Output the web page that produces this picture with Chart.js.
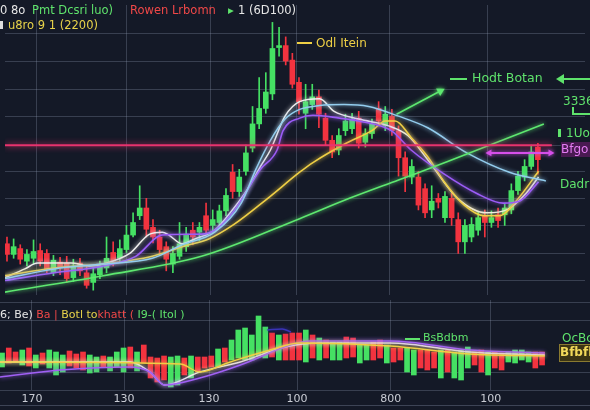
<!DOCTYPE html>
<html>
<head>
<meta charset="utf-8">
<script src="https://cdn.jsdelivr.net/npm/chart.js@4/dist/chart.umd.min.js"></script>
<style>
  body { margin: 0; background: #141927; }
  #wrap { position: relative; width: 590px; height: 410px; overflow: hidden; background: #141927; font-family: "DejaVu Sans", sans-serif; }
  canvas { position: absolute; left: 0; }
  #top { top: 0; }
  #bot { top: 300px; }
  .t { position: absolute; white-space: nowrap; font-size: 11.5px; line-height: 14px; }
  .ln { position: absolute; height: 2px; }
</style>
</head>
<body>
<div id="wrap">
  <canvas id="top" width="590" height="300"></canvas>
  <canvas id="bot" width="590" height="110"></canvas>

  <div class="t" style="left:0;top:3px;color:#e6e6e6">0 8o</div>
  <div class="t" style="left:32px;top:3px;color:#5fe36c">Pmt Dcsri luo)</div>
  <div class="t" style="left:130px;top:3px;color:#f04848">Rowen Lrbomn</div>
  <div class="t" style="left:228px;top:3px;color:#5fe36c">▸</div>
  <div class="t" style="left:238px;top:3px;color:#e6e6e6">1 (6D100)</div>
  <div style="position:absolute;left:0;top:21px;width:3px;height:8px;background:#ddd"></div>
  <div class="t" style="left:8px;top:18px;color:#e8d34a">u8ro 9 1 (2200)</div>

  <div class="ln" style="left:297px;top:42px;width:15px;background:#eecf45"></div>
  <div class="t" style="left:316px;top:36px;color:#eecf45;font-size:12px">Odl Itein</div>
  <div class="ln" style="left:450px;top:78px;width:17px;background:#5fe36c"></div>
  <div class="t" style="left:472px;top:71px;color:#5fe36c;font-size:12.5px">Hodt Botan</div>
  <div class="ln" style="left:563px;top:78px;width:27px;background:#5fe36c"></div>
  <div style="position:absolute;left:556px;top:74px;width:0;height:0;border-top:5px solid transparent;border-bottom:5px solid transparent;border-right:8px solid #5fe36c"></div>
  <div class="t" style="left:563px;top:94px;color:#5fe36c;font-size:12px">3336</div>
  <div class="ln" style="left:572px;top:113px;width:18px;background:#5fe36c"></div>
  <div style="position:absolute;left:572px;top:107px;width:2px;height:8px;background:#5fe36c"></div>
  <div style="position:absolute;left:558px;top:129px;width:3px;height:8px;background:#5fe36c"></div>
  <div class="t" style="left:566px;top:126px;color:#5fe36c;font-size:12px">1Uolo</div>
  <div class="t" style="left:561px;top:142px;width:29px;height:15px;background:#4a1a52;color:#e37cf2;font-size:12px">Bfgo</div>
  <div class="t" style="left:560px;top:177px;color:#5fe36c;font-size:12px">Dadru</div>

  <div class="t" style="left:0;top:308px;font-size:11px"><span style="color:#e6e6e6">6; Be)</span> <span style="color:#f04848">Ba |</span> <span style="color:#e8d34a">Botl to</span><span style="color:#f04848">khatt (</span> <span style="color:#5fe36c">I9-( Itol )</span></div>
  <div class="ln" style="left:405px;top:338px;width:15px;background:#5fe36c"></div>
  <div class="t" style="left:423px;top:331px;color:#5fe36c;font-size:11px">BsBdbm</div>
  <div class="t" style="left:562px;top:331px;color:#5fe36c;font-size:12px">OcBc</div>
  <div class="t" style="left:559px;top:344px;width:31px;height:16px;background:#3b3414;border:1px solid #8a7a30;color:#f2d95a;font-size:12px;font-weight:bold">Bfbfbt</div>
  <div style="position:absolute;left:0;top:405px;width:590px;height:1px;background:#3d4456"></div>
</div>

<script>
// candles, one per bar index
const opens = [
  53, 42, 48, 35, 38, 46, 43, 23, 34, 33,
  18, 33, 23, 13, 21, 28, 44, 38, 47, 62,
  82, 90, 70, 60, 50, 32, 40, 50, 67, 65,
  82, 72, 75, 87, 127, 107, 128, 152, 177, 193,
  208, 256, 258, 243, 220, 188, 197, 205, 183, 160,
  150, 170, 172, 183, 158, 167, 193, 175, 185, 170,
  142, 122, 122, 110, 88, 100, 80, 100, 78, 55,
  60, 67, 82, 75, 83, 83, 88, 108, 122, 133,
  153
];
const highs = [
  60, 58, 52, 47, 57, 53, 47, 41, 39, 40,
  37, 38, 30, 28, 35, 60, 55, 57, 72, 85,
  113, 100, 78, 67, 55, 50, 75, 70, 75, 75,
  95, 88, 93, 110, 135, 130, 155, 195, 225, 230,
  282, 277, 267, 250, 225, 218, 218, 212, 188, 165,
  172, 187, 188, 190, 172, 182, 200, 195, 192, 175,
  148, 140, 128, 115, 113, 105, 107, 105, 85, 78,
  80, 86, 88, 87, 90, 95, 115, 128, 140, 155,
  157
];
const lows = [
  35, 38, 32, 30, 32, 30, 23, 20, 21, 13,
  14, 20, 7, 5, 17, 23, 30, 34, 44, 60,
  78, 60, 54, 42, 25, 23, 37, 45, 52, 56,
  62, 65, 70, 82, 100, 102, 124, 148, 172, 188,
  202, 247, 238, 214, 187, 172, 192, 173, 155, 142,
  145, 165, 167, 152, 153, 162, 175, 170, 165, 123,
  107, 115, 88, 80, 80, 90, 75, 72, 43, 43,
  55, 62, 60, 70, 70, 72, 84, 104, 118, 130,
  125
];
const closes = [
  42, 50, 37, 42, 45, 35, 27, 36, 28, 17,
  30, 25, 10, 22, 30, 38, 35, 48, 62, 75,
  90, 68, 60, 47, 37, 43, 53, 63, 60, 70,
  67, 78, 87, 103, 107, 122, 147, 177, 193, 210,
  255, 258, 242, 218, 200, 200, 205, 187, 160, 148,
  165, 180, 182, 157, 167, 177, 180, 187, 170, 142,
  123, 133, 93, 85, 97, 96, 102, 80, 55, 72,
  73, 80, 75, 80, 77, 90, 108, 123, 133, 148,
  140
];

// moving averages [bar index, price]
const maWhite = [[-0.3,18],[2.7,27],[4.6,33],[9.6,33],[12.6,30],[14.5,32],[18.5,43],[21.5,63],[23.4,65],[24.4,62],[26.4,53],[28.3,58],[31.3,67],[34.2,90],[36.3,110],[38.2,133],[39.7,150],[41.9,185],[44.1,200],[47.1,203],[49.3,190],[53,182],[57.5,175],[60.4,165],[63.4,140],[67.9,100],[72.3,85],[75.3,88],[78.2,105],[80.1,122]];
const maBlue = [[-0.3,17],[7.1,27],[14.5,32],[21.9,38],[26.4,52],[31.3,65],[35.3,95],[37.5,130],[39.7,160],[41.9,182],[44.1,192],[47.1,196],[50.8,197],[54.5,195],[59,185],[63.4,173],[69.3,147],[75.7,127],[81.2,118]];
const maPurple = [[-0.3,15],[7.1,23],[14.5,30],[19.4,40],[23.4,62],[29.3,63],[31.3,67],[34.2,87],[38.2,130],[40.7,150],[41.6,170],[44.1,183],[46.1,186],[50.1,183],[53,180],[57.9,170],[60.9,150],[65.9,125],[70.8,105],[74.8,95],[77.2,97],[80.1,117]];
const maYellow = [[-0.3,20],[7.1,28],[14.5,32],[21.9,40],[26.4,50],[30.4,58],[34.2,73],[39.3,100],[44.1,127],[46.1,137],[51.1,157],[55,170],[57,180],[58.5,180],[60.9,163],[63.4,143],[65.9,117],[68.9,93],[71.9,82],[74.2,82],[76.7,97],[80.1,128]];
const trendGreen = [[-0.3,3],[14.5,20],[29.3,40],[44.1,79],[51.6,100],[59,119],[66.4,138],[80.9,177]];

const levelPrice = 155;
const levelSpan = [-0.3, 82.1];
const arrowUp = [[58.7,187],[65.3,211]];
const rangeArrow = [[72.7,147],[81.9,147]];

// lower panel
const volLow = [
  23, 27, 28, 25, 24, 22, 26, 22, 15, 18,
  24, 22, 20, 17, 18, 23, 19, 23, 18, 22,
  19, 27, 12, 8, 10, 3, 5, 15, 12, 18,
  22, 23, 23, 28, 30, 32, 30, 30, 34, 32,
  33, 30, 30, 30, 30, 28, 32, 30, 32, 30,
  30, 32, 33, 27, 30, 30, 32, 27, 28, 30,
  18, 15, 22, 20, 22, 12, 18, 12, 10, 22,
  25, 18, 15, 22, 20, 28, 27, 30, 28, 22,
  25
];
const volHigh = [
  37, 42, 38, 40, 42, 35, 37, 40, 38, 35,
  39, 36, 38, 35, 33, 34, 33, 38, 42, 43,
  38, 45, 33, 32, 34, 33, 34, 32, 34, 33,
  33, 34, 41, 42, 50, 60, 62, 55, 74, 63,
  57, 55, 56, 57, 57, 60, 55, 52, 50, 48,
  48, 53, 52, 45, 45, 48, 50, 45, 42, 42,
  42, 40, 40, 40, 38, 40, 40, 38, 40, 43,
  38, 40, 38, 38, 37, 38, 40, 40, 38, 38,
  38
];
const volUp = [
  1, 0, 0, 1, 0, 1, 0, 1, 1, 1,
  0, 0, 0, 1, 1, 0, 1, 1, 1, 0,
  1, 0, 0, 0, 0, 1, 1, 0, 1, 0,
  0, 0, 1, 0, 1, 1, 1, 1, 1, 1,
  0, 1, 0, 0, 0, 1, 0, 1, 0, 1,
  1, 0, 0, 1, 1, 0, 0, 1, 0, 0,
  1, 1, 0, 0, 0, 1, 0, 1, 1, 1,
  0, 0, 1, 0, 0, 1, 1, 1, 1, 0,
  0
];
const oscWhite = [[-0.3,28],[19,28],[21.9,18],[24.1,5],[29.3,18],[35.3,28],[41.9,43],[47.1,47],[57.5,47],[69.3,38],[80.4,35]];
const oscPurple = [[-0.3,13],[8.6,20],[19,23],[21.9,18],[24.1,5],[29.3,12],[35.3,25],[42.7,45],[45.6,49],[57.5,49],[69.3,40],[80.4,37]];
const oscYellow = [[-0.3,28],[26.4,26],[29.3,18],[33.8,28],[39.7,40],[44.1,47],[57.5,44],[69.3,36],[80.4,34]];
const oscSignal = [[39.3,60],[41.5,61],[42.8,58]];

const xTicks = [4.44, 18.07, 30.67, 43.7, 57.6, 72.4];
const xTickLabels = ['170', '130', '130', '100', '800', '100'];
const yTicksTop = [15, 43, 72, 100, 128, 155, 185, 213, 242, 270];
const yTicksBot = [0, 18, 70, 87];

const GREEN = '#45e063';
const RED = '#f2333f';
const gridColor = 'rgba(150,160,185,0.28)';
const xMin = -0.3, xMax = 87.1;

const glow = {
  id: 'glow',
  beforeDatasetDraw(chart, args) {
    const ds = chart.data.datasets[args.index];
    if (!ds.glow) return;
    chart.ctx.save();
    chart.ctx.shadowColor = ds.borderColor;
    chart.ctx.shadowBlur = ds.glow;
  },
  afterDatasetDraw(chart, args) {
    if (chart.data.datasets[args.index].glow) chart.ctx.restore();
  }
};

function line(pts, color, width, extra) {
  return Object.assign({
    type: 'line',
    data: pts.map(p => ({ x: p[0], y: p[1] })),
    borderColor: color,
    borderWidth: width,
    pointRadius: 0,
    cubicInterpolationMode: 'monotone',
    fill: false,
    order: 0,
    glow: 4
  }, extra || {});
}

function scaleX(showLabels) {
  return {
    type: 'linear', min: xMin, max: xMax, offset: false,
    grid: { color: gridColor, drawTicks: false, offset: false },
    border: { display: false },
    ticks: showLabels
      ? { color: '#c9ccd4', font: { size: 11, family: 'DejaVu Sans' }, padding: 3, maxRotation: 0, autoSkip: false,
          callback: (v, i) => xTickLabels[i] }
      : { display: false },
    afterBuildTicks: s => { s.ticks = xTicks.map(v => ({ value: v })); },
    afterFit: s => { s.height = showLabels ? 20 : 0; }
  };
}
function scaleY(min, max, ticks) {
  return {
    min: min, max: max,
    grid: { color: gridColor, drawTicks: false },
    border: { display: false },
    ticks: { display: false },
    afterBuildTicks: s => { s.ticks = ticks.map(v => ({ value: v })); },
    afterFit: s => { s.width = 0; }
  };
}

const candleColors = opens.map((o, i) => closes[i] >= o ? GREEN : RED);

new Chart(document.getElementById('top'), {
  type: 'bar',
  data: {
    datasets: [
      line(levelSpan.map(x => [x, levelPrice]), '#e8336e', 2, { cubicInterpolationMode: 'default', glow: 6 }),
      line(trendGreen, '#5ee870', 1.6),
      line(maBlue, '#93cdee', 1.5),
      line(maPurple, '#9b5cf6', 1.6),
      line(maYellow, '#efcf45', 1.6),
      line(maWhite, '#eeeeee', 1.5),
      line(arrowUp, '#5ee870', 1.6, { pointRadius: [0, 5], pointStyle: 'triangle', pointRotation: [0, 62], pointBackgroundColor: '#5ee870', pointBorderWidth: 0 }),
      line(rangeArrow, '#d650ec', 2, { pointRadius: [4, 4], pointStyle: 'triangle', pointRotation: [-90, 90], pointBackgroundColor: '#d650ec', pointBorderWidth: 0 }),
      {
        type: 'bar',
        data: opens.map((o, i) => ({ x: i, y: [lows[i], highs[i]] })),
        backgroundColor: candleColors,
        barThickness: 1, grouped: false, order: 2
      },
      {
        type: 'bar',
        data: opens.map((o, i) => ({ x: i, y: [o, closes[i]] })),
        backgroundColor: candleColors,
        barThickness: 5, grouped: false, minBarLength: 1, order: 1
      }
    ]
  },
  options: {
    responsive: false, animation: false, devicePixelRatio: 1,
    layout: { padding: 0 },
    plugins: { legend: { display: false }, tooltip: { enabled: false } },
    scales: { x: scaleX(false), y: scaleY(0, 300, yTicksTop) }
  },
  plugins: [glow]
});

new Chart(document.getElementById('bot'), {
  type: 'bar',
  data: {
    datasets: [
      line(oscSignal, '#3a34b8', 1.5),
      line(oscYellow, '#efcf45', 1.4),
      line(oscPurple, '#a060f5', 1.6),
      line(oscWhite, '#eeeeee', 1.4),
      {
        type: 'bar',
        data: volLow.map((v, i) => ({ x: i, y: [v, volHigh[i]] })),
        backgroundColor: volUp.map(u => u ? GREEN : RED),
        barThickness: 5, grouped: false, order: 1
      }
    ]
  },
  options: {
    responsive: false, animation: false, devicePixelRatio: 1,
    layout: { padding: 0 },
    plugins: { legend: { display: false }, tooltip: { enabled: false } },
    scales: { x: scaleX(true), y: scaleY(0, 90, yTicksBot) }
  },
  plugins: [glow]
});
</script>
</body>
</html>
